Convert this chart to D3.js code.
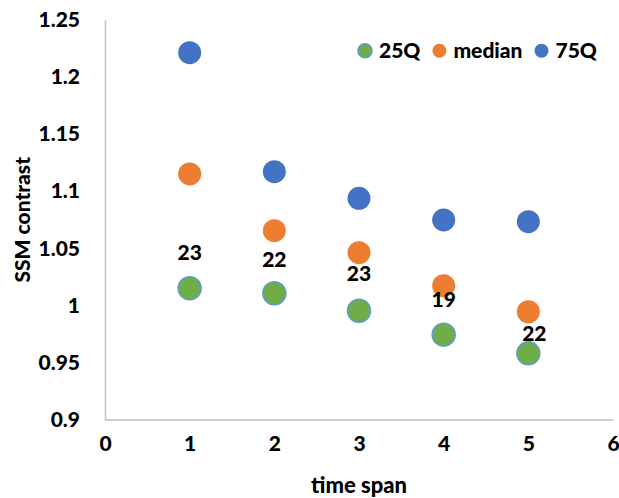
<!DOCTYPE html>
<html>
<head>
<meta charset="utf-8">
<script src="https://cdn.jsdelivr.net/npm/d3@7"></script>
<style>
  html, body { margin: 0; padding: 0; background: #fff; }
  svg { display: block; font-family: Lato, "Liberation Sans", sans-serif; font-weight: 900; }
</style>
</head>
<body>
<svg id="chart" width="619" height="498"></svg>
<script>
// ---- data ----
const timeSpan = [1, 2, 3, 4, 5];
const q25 = [1.015, 1.0106, 0.9953, 0.9743, 0.958];
const median = [1.1151, 1.0654, 1.0461, 1.0172, 0.9944];
const q75 = [1.2214, 1.1171, 1.0938, 1.0748, 1.0733];
const countLabels = ["23", "22", "23", "19", "22"];
const xTicks = [0, 1, 2, 3, 4, 5, 6];
const yTicks = [0.9, 0.95, 1, 1.05, 1.1, 1.15, 1.2, 1.25];
const seriesNames = ["25Q", "median", "75Q"];

// ---- layout / style ----
const labelDx = [0, 0, 0, 0, 6];
const labelDy = [-36, -34, -37, -35, -20];
const colors = { "25Q": "#70AD47", "median": "#ED7D31", "75Q": "#4472C4" };
const strokes = { "25Q": "#5B9BD5", "median": "none", "75Q": "none" };
const fontSize = 21;
const fontWeight = 900;

const svg = d3.select("#chart");
const x = d3.scaleLinear().domain([0, 6]).range([105, 613]);
const y = d3.scaleLinear().domain([0.9, 1.25]).range([419.5, 20]);

// axes
const xAxis = svg.append("g").attr("transform", `translate(0,${y(0.9)})`)
  .call(d3.axisBottom(x).tickValues(xTicks).tickSize(0).tickPadding(24).tickFormat(d3.format("d")));
const yAxis = svg.append("g").attr("transform", `translate(${x(0)},0)`)
  .call(d3.axisLeft(y).tickValues(yTicks).tickSize(0).tickPadding(25).tickFormat(d => String(+d.toFixed(2))));
[xAxis, yAxis].forEach(g => {
  g.select(".domain").attr("stroke", "#BFBFBF").attr("stroke-width", 1.5);
  g.selectAll("text").attr("font-size", fontSize).attr("font-family", "Lato, sans-serif")
    .attr("font-weight", fontWeight).attr("fill", "#000");
});
xAxis.selectAll("text").attr("dy", "0.35em");

// axis titles
svg.append("text").attr("x", (x(0) + x(6)) / 2).attr("y", 485).attr("dy", "0.35em")
  .attr("text-anchor", "middle").attr("font-size", 22).text("time span");
svg.append("text").attr("transform", `translate(23,${(y(0.9) + y(1.25)) / 2}) rotate(-90)`)
  .attr("dy", "0.35em").attr("text-anchor", "middle").attr("font-size", fontSize).text("SSM contrast");

// series
const series = [["25Q", q25], ["median", median], ["75Q", q75]];
series.forEach(([name, vals]) => {
  svg.append("g").selectAll("circle").data(vals).join("circle")
    .attr("cx", (d, i) => x(timeSpan[i]))
    .attr("cy", d => y(d))
    .attr("r", 11.5)
    .attr("fill", colors[name])
    .attr("stroke", strokes[name])
    .attr("stroke-width", 1.5);
});

// data labels
svg.append("g").selectAll("text").data(countLabels).join("text")
  .attr("x", (d, i) => x(timeSpan[i]) + labelDx[i])
  .attr("y", (d, i) => y(q25[i]) + labelDy[i])
  .attr("dy", "0.35em").attr("text-anchor", "middle").attr("font-size", fontSize)
  .text(d => d);

// legend
const legend = svg.append("g");
let lx = 365;
const ly = 50.7;
seriesNames.forEach(name => {
  legend.append("circle").attr("cx", lx).attr("cy", ly).attr("r", 7)
    .attr("fill", colors[name]).attr("stroke", strokes[name]).attr("stroke-width", 1.5);
  const t = legend.append("text").attr("x", lx + 14).attr("y", ly).attr("dy", "0.35em")
    .attr("font-size", fontSize).text(name);
  lx = lx + 14 + t.node().getComputedTextLength() + 19;
});
</script>
</body>
</html>
